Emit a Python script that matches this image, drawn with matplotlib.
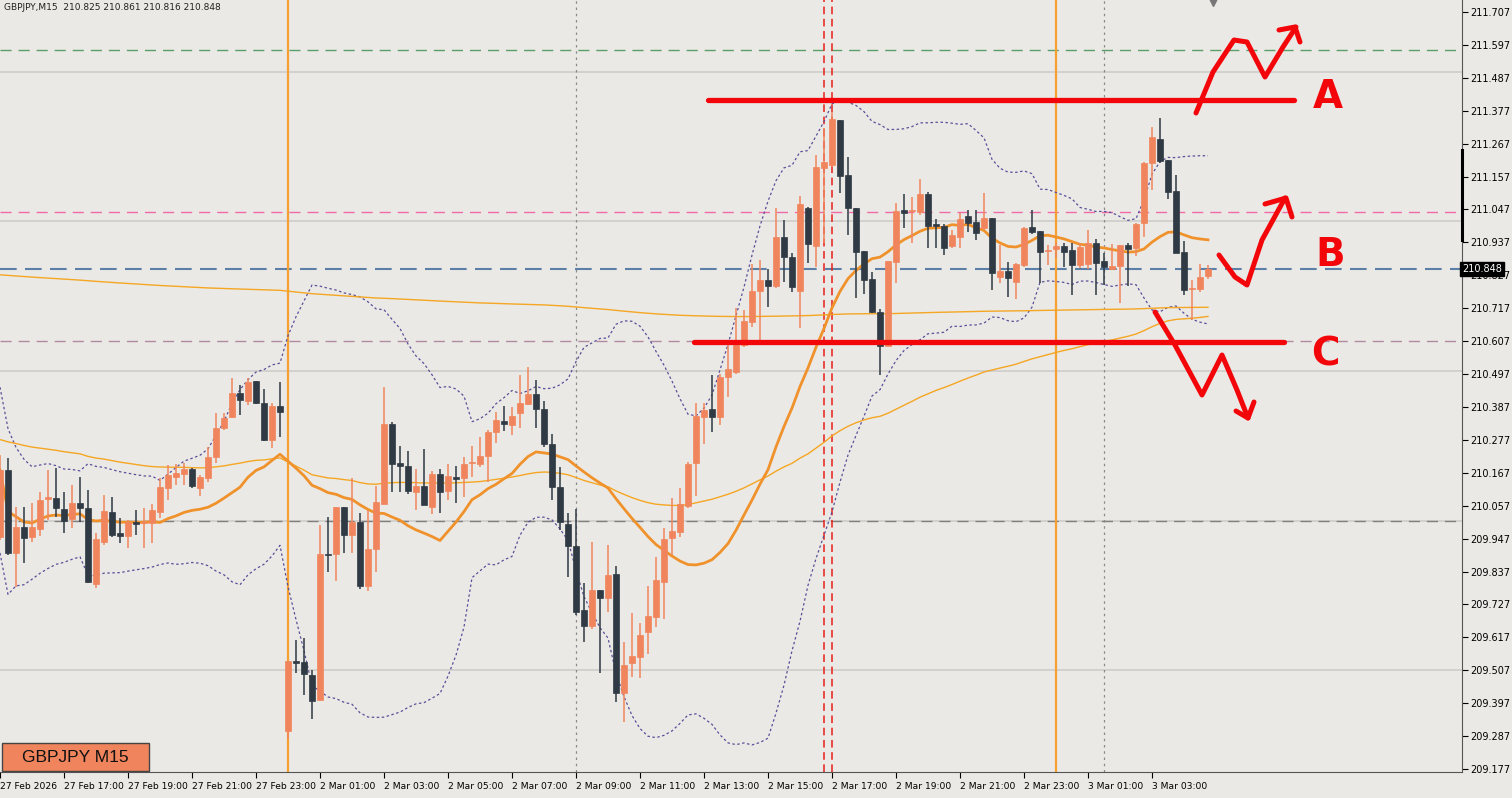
import numpy as np
import pandas as pd
import matplotlib
matplotlib.use("Agg")
import matplotlib.pyplot as plt
from matplotlib.patches import Rectangle

opens = [209.952,210.176,209.899,209.986,209.952,209.979,210.079,210.083,210.046,210.013,
210.066,210.049,209.795,209.936,210.036,209.966,209.956,210.003,209.999,209.999,
210.036,210.116,210.153,210.163,210.179,210.116,210.149,210.220,210.316,210.353,
210.433,210.407,210.474,210.400,210.276,210.390,209.304,209.538,209.535,209.491,
209.408,209.896,209.896,210.053,209.959,210.003,209.789,209.912,210.063,210.330,
210.200,210.190,210.103,210.123,210.053,210.163,210.106,210.153,210.149,210.200,
210.196,210.223,210.303,210.340,210.326,210.367,210.397,210.430,210.380,210.263,
210.119,209.996,209.922,209.709,209.655,209.775,209.749,209.829,209.431,209.531,
209.551,209.635,209.685,209.802,209.949,209.969,210.056,210.200,210.353,210.380,
210.353,210.487,210.504,210.594,210.671,210.775,210.811,210.791,210.955,210.888,
210.775,211.052,210.925,211.186,211.196,211.346,211.162,211.052,210.908,210.815,
210.704,210.591,210.871,211.045,211.042,211.039,211.099,210.998,210.992,210.925,
210.955,211.025,211.005,210.985,211.019,210.821,210.841,210.805,210.861,210.988,
210.975,210.908,210.915,210.925,210.912,210.861,210.865,210.935,210.875,210.848,
210.858,210.928,210.918,211.002,211.202,211.282,211.212,211.109,210.905,210.781,
210.781,210.825]
highs = [210.226,210.216,210.053,210.053,210.066,210.103,210.176,210.183,210.103,210.126,
210.153,210.109,209.966,210.093,210.086,210.016,210.009,210.043,210.049,210.063,
210.149,210.193,210.196,210.199,210.183,210.159,210.253,210.366,210.366,210.484,
210.460,210.484,210.474,210.447,210.400,210.470,209.538,209.608,209.615,209.508,
209.993,210.019,210.053,210.053,210.149,210.033,210.043,210.123,210.454,210.337,
210.256,210.240,210.179,210.247,210.173,210.179,210.196,210.190,210.220,210.256,
210.286,210.310,210.370,210.390,210.387,210.494,210.520,210.477,210.407,210.296,
210.186,210.033,210.046,209.799,209.936,209.775,209.926,209.856,209.602,209.698,
209.665,209.789,209.886,209.983,210.083,210.116,210.203,210.400,210.400,210.494,
210.497,210.611,210.718,210.711,210.865,210.878,210.848,211.052,211.012,210.902,
211.092,211.055,211.229,211.319,211.373,211.346,211.222,211.052,210.908,210.838,
210.714,210.875,211.069,211.099,211.089,211.149,211.105,211.015,210.998,210.978,
211.035,211.045,211.045,211.102,211.019,210.928,210.871,210.868,210.988,211.045,
210.975,210.928,210.935,210.935,210.935,210.935,210.978,210.948,210.902,210.932,
210.928,210.935,211.002,211.206,211.323,211.353,211.212,211.162,210.942,210.811,
210.865,210.861]
lows = [209.942,209.892,209.785,209.865,209.936,209.956,210.009,210.019,209.966,209.983,
210.003,209.799,209.782,209.926,209.952,209.932,209.916,209.959,209.916,209.932,
210.016,210.076,210.126,210.126,210.116,210.089,210.136,210.200,210.310,210.350,
210.360,210.393,210.397,210.273,210.250,210.286,209.278,209.498,209.425,209.345,
209.408,209.836,209.805,209.899,209.899,209.779,209.772,209.836,210.063,210.103,
210.103,210.096,210.043,210.059,210.029,210.033,210.076,210.066,210.086,210.153,
210.186,210.136,210.266,210.306,210.293,210.316,210.393,210.316,210.253,210.076,
209.976,209.819,209.692,209.602,209.645,209.498,209.702,209.401,209.334,209.484,
209.481,209.561,209.652,209.678,209.892,209.952,210.049,210.089,210.263,210.303,
210.326,210.420,210.497,210.587,210.654,210.611,210.721,210.785,210.805,210.771,
210.651,210.868,210.855,210.935,211.189,211.102,210.962,210.751,210.764,210.701,
210.494,210.591,210.801,210.985,210.935,211.029,210.918,210.918,210.895,210.918,
210.918,210.972,210.945,210.978,210.778,210.801,210.754,210.748,210.855,210.965,
210.801,210.861,210.885,210.855,210.761,210.851,210.848,210.761,210.795,210.845,
210.734,210.791,210.891,210.955,211.112,211.202,211.082,210.902,210.761,210.678,
210.771,210.816]
closes = [210.176,209.899,209.986,209.949,209.986,210.076,210.086,210.049,210.006,210.066,
210.049,209.802,209.946,210.039,209.959,209.956,210.003,209.996,210.003,210.043,
210.119,210.159,210.166,210.179,210.123,210.153,210.220,210.316,210.350,210.433,
210.410,210.470,210.400,210.276,210.390,210.370,209.538,209.531,209.495,209.405,
209.896,209.892,210.053,209.959,210.003,209.789,209.912,210.069,210.330,210.196,
210.190,210.106,210.123,210.059,210.163,210.103,210.156,210.146,210.196,210.200,
210.223,210.303,210.343,210.330,210.357,210.400,210.430,210.380,210.263,210.119,
210.003,209.922,209.702,209.655,209.775,209.749,209.825,209.431,209.525,209.555,
209.625,209.689,209.809,209.946,209.973,210.063,210.196,210.357,210.377,210.353,
210.487,210.514,210.594,210.674,210.775,210.811,210.791,210.955,210.888,210.788,
211.065,210.932,211.189,211.206,211.349,211.159,211.052,210.905,210.811,210.704,
210.591,210.875,211.042,211.035,211.045,211.099,210.992,210.992,210.918,210.962,
211.015,211.002,210.968,211.019,210.835,210.841,210.818,210.865,210.985,210.972,
210.905,210.908,210.925,210.905,210.861,210.922,210.935,210.868,210.855,210.858,
210.928,210.915,210.998,211.202,211.289,211.209,211.105,210.902,210.778,210.785,
210.821,210.848]

tick_idx = list(range(0, 152, 8))
tick_labels = ["27 Feb 2026", "27 Feb 17:00", "27 Feb 19:00", "27 Feb 21:00", "27 Feb 23:00",
               "2 Mar 01:00", "2 Mar 03:00", "2 Mar 05:00", "2 Mar 07:00", "2 Mar 09:00",
               "2 Mar 11:00", "2 Mar 13:00", "2 Mar 15:00", "2 Mar 17:00", "2 Mar 19:00",
               "2 Mar 21:00", "2 Mar 23:00", "3 Mar 01:00", "3 Mar 03:00"]
price_ticks = [211.707 - 0.11 * k for k in range(24)]
grid_levels = [211.507, 211.007, 210.507, 210.007, 209.507]
levels = {"green": 211.580, "pink": 211.038, "blue": 210.848, "mauve": 210.607, "gray": 210.006}
level_A = 211.413
level_C = 210.604
last_price = 210.848
ema_long_seed, ema_mid_seed = 210.83, 210.28

W, H = 1512, 798
BG = "#ebe9e5"
BULL, BEAR = "#f0855d", "#2f3a44"
fig = plt.figure(figsize=(W / 100, H / 100), dpi=100, facecolor=BG)
ax = fig.add_axes([0, 26 / H, 1462 / W, 772 / H], facecolor=BG)
YTOP = 211.747
K = 0.003342
ax.set_xlim(0, 1462 / 8)
ax.set_ylim(YTOP - 772 * K, YTOP)

def P(px, py):
    return px / 8.0, YTOP - py * K

n = len(closes)
idx = np.arange(n)
o, h, l, c = map(np.array, (opens, highs, lows, closes))

for g in grid_levels:
    ax.axhline(g, color="#cfcdca", lw=1.2, zorder=1)
ax.axhline(levels["green"], color="#5a9e6a", lw=1, ls=(0, (8, 5)), zorder=2)
ax.axhline(levels["pink"], color="#f06aa8", lw=1, ls=(0, (8, 5)), zorder=2)
ax.axhline(levels["blue"], color="#5b7fa6", lw=1.5, ls=(0, (8, 4)), zorder=2)
ax.axhline(levels["mauve"], color="#b08aa0", lw=1, ls=(0, (8, 5)), zorder=2)
ax.axhline(levels["gray"], color="#808080", lw=1, ls=(0, (8, 5)), zorder=2)

for xi in (36, 132):
    ax.axvline(xi, color="#f5a030", lw=1.6, zorder=2)
for xi in (72, 138):
    ax.axvline(xi, color="#8a8a8a", lw=0.9, ls=(0, (2, 3)), zorder=2)
for xi in (103, 104):
    ax.axvline(xi, color="#e8201a", lw=1.1, ls=(0, (5, 3)), zorder=2)

cs = pd.Series(c)
mid = cs.rolling(20, min_periods=1).mean()
sd = cs.rolling(20, min_periods=2).std(ddof=0).bfill()
ax.plot(idx, mid + 2 * sd, color="#5a4f9a", lw=0.9, ls=(0, (2, 2)), zorder=3)
ax.plot(idx, mid - 2 * sd, color="#5a4f9a", lw=0.9, ls=(0, (2, 2)), zorder=3)
ax.plot(idx, mid, color="#f0922c", lw=2.0, zorder=4)

def ema(vals, seed, alpha):
    out = []
    v = seed
    for x in vals:
        v = v + alpha * (x - v)
        out.append(v)
    return np.array(out)

ax.plot(idx, ema(c, ema_long_seed, 0.0022), color="#f5a623", lw=1.0, zorder=3)
ax.plot(idx, ema(c, ema_mid_seed, 0.02), color="#f5a623", lw=1.0, zorder=3)

cols = np.where(c >= o, BULL, BEAR)
ax.vlines(idx, l, h, colors=cols, lw=1.1, zorder=5)
ax.bar(idx, np.maximum(np.abs(c - o), 0.003), bottom=np.minimum(o, c), width=0.65,
       color=cols, edgecolor=cols, lw=0.5, zorder=6)

RED = "#f2060a"
ax.plot([708 / 8, 1294 / 8], [level_A, level_A], color=RED, lw=3.8, solid_capstyle="round", zorder=7)
ax.plot([694 / 8, 1284 / 8], [level_C, level_C], color=RED, lw=3.8, solid_capstyle="round", zorder=7)

def stroke(pts):
    xs, ys = zip(*[P(a, b) for a, b in pts])
    ax.plot(xs, ys, color=RED, lw=3.6, solid_capstyle="round", solid_joinstyle="round", zorder=8)

stroke([(1196, 113), (1213, 72), (1234, 40), (1247, 42), (1265, 77), (1283, 47), (1296, 27)])
stroke([(1279, 30), (1295, 27), (1300, 42)])
stroke([(1219, 255), (1235, 277), (1247, 285), (1262, 240), (1285, 198)])
stroke([(1265, 204), (1286, 198), (1292, 217)])
stroke([(1155, 312), (1175, 345), (1202, 395), (1222, 355), (1237, 390), (1248, 418)])
stroke([(1236, 411), (1248, 418), (1254, 402)])
for ch, px, py in (("A", 1328, 97), ("B", 1330, 255), ("C", 1325, 355)):
    ax.text(*P(px, py), ch, color=RED, fontsize=28, fontweight="bold", ha="center", va="center",
            family="DejaVu Sans", zorder=8)

ax.set_yticks(price_ticks)
ax.set_yticklabels([f"{p:.3f}" for p in price_ticks], fontsize=7.0, family="DejaVu Sans")
ax.yaxis.tick_right()
ax.tick_params(axis="y", length=4, width=0.8, pad=2, colors="black")
ax.set_xticks(tick_idx)
ax.set_xticklabels(tick_labels, fontsize=6.6, ha="left")
ax.tick_params(axis="x", length=4, width=0.8, pad=3)
for sp in ("top", "left"):
    ax.spines[sp].set_visible(False)
ax.spines["right"].set_color("#555555")
ax.spines["bottom"].set_color("#555555")

ax.text(1.0, last_price, f"{last_price:.3f}", transform=ax.get_yaxis_transform(), ha="left", va="center",
        fontsize=7.0, color="white", zorder=10,
        bbox=dict(boxstyle="square,pad=0.2", fc="black", ec="black"))
fig.add_artist(plt.Line2D([1462 / W, 1462 / W], [1 - 150 / H, 1 - 240 / H], color="black", lw=2.2))
ax.text(4 / 1462, 1 - 8 / 772, "GBPJPY,M15  210.825 210.861 210.816 210.848", transform=ax.transAxes,
        fontsize=6.5, va="center", ha="left", color="#222222")
ax.plot([1213 / 8], [YTOP - 1 * K], marker="v", color="#777777", ms=7, clip_on=False, zorder=9)

fig.add_artist(Rectangle((2 / W, 1 - 771 / H), 147 / W, 28 / H, transform=fig.transFigure,
                         fc=BULL, ec="#444444", lw=1, zorder=20))
fig.text(75 / W, 1 - 757 / H, "GBPJPY M15", fontsize=12.5, family="Liberation Sans",
         ha="center", va="center", color="#111111", zorder=21)

fig.savefig("out.png", dpi=100, facecolor=BG)
